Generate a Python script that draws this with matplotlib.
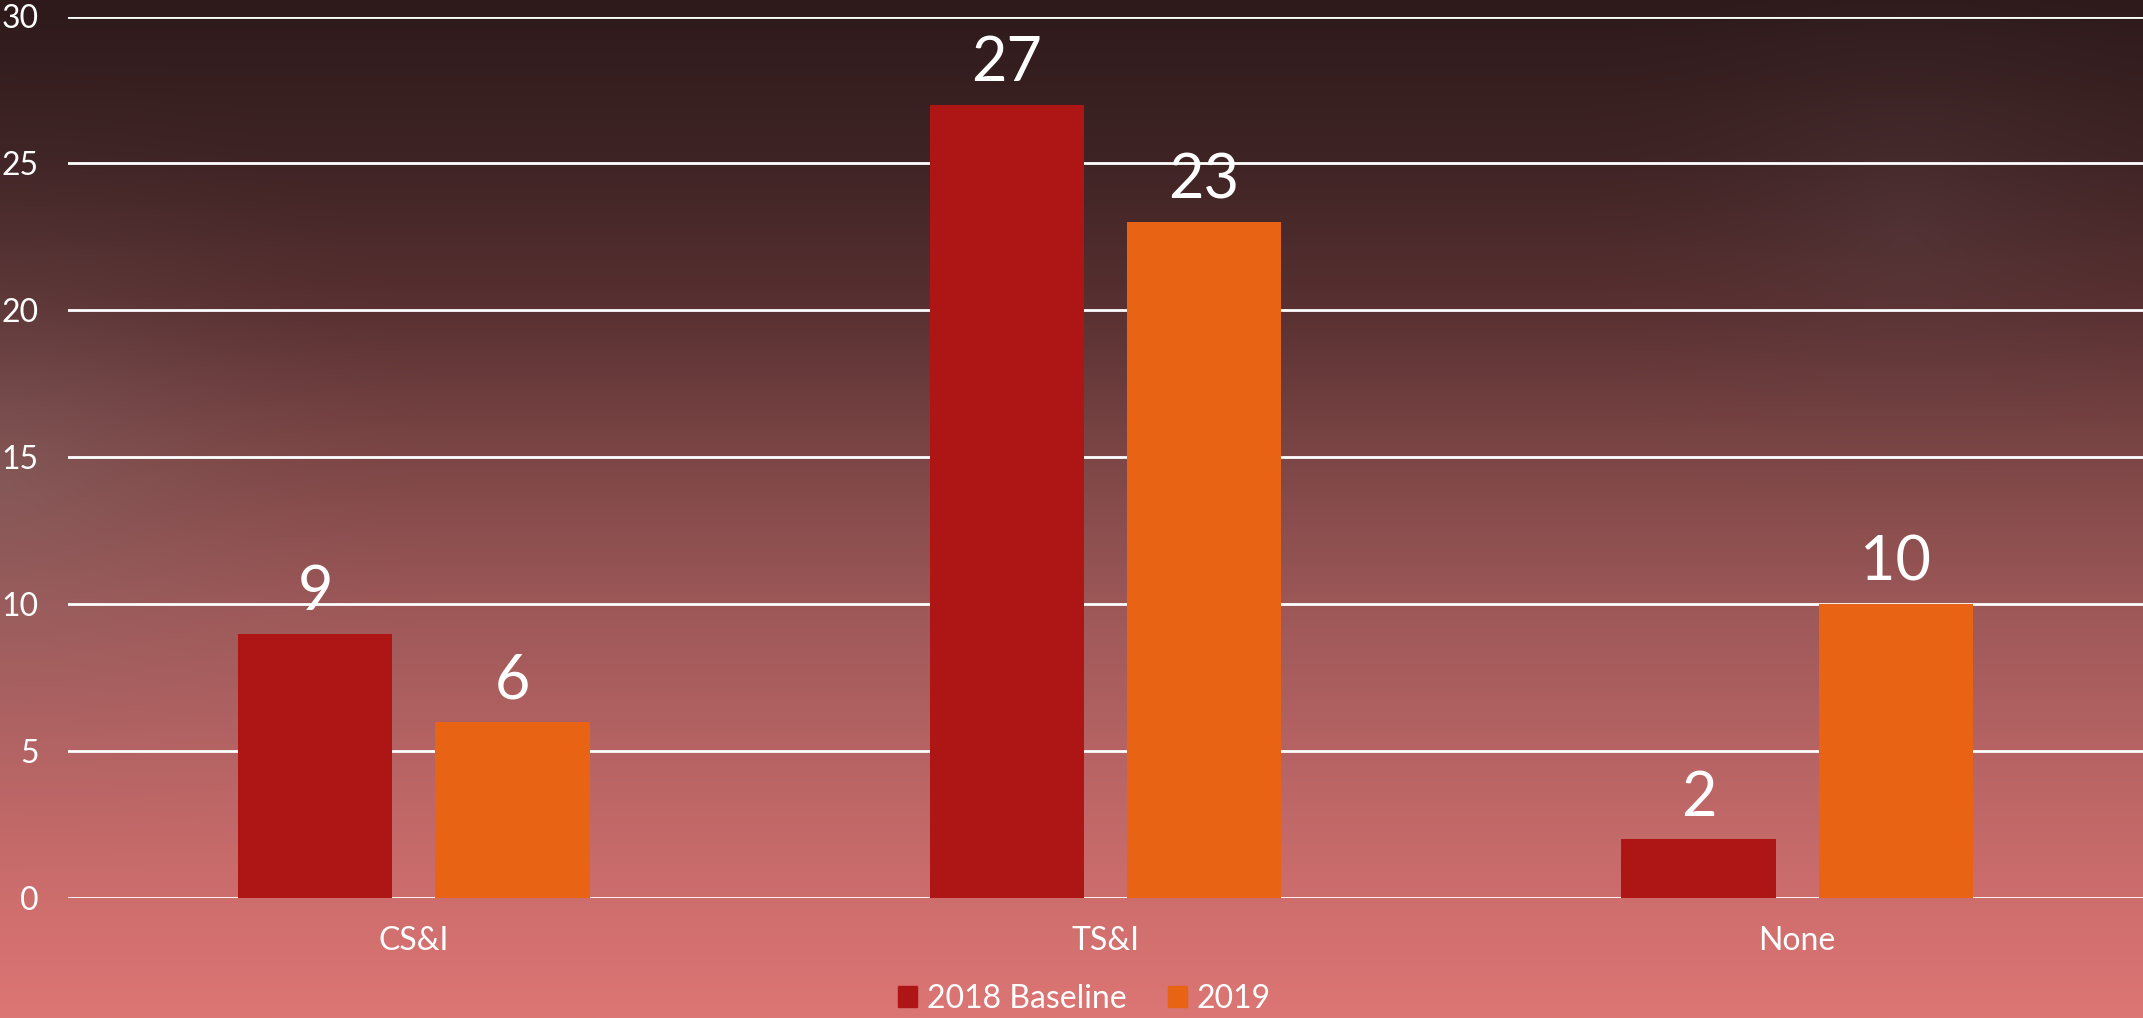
import numpy as np
import matplotlib
matplotlib.use("Agg")
import matplotlib.pyplot as plt
from matplotlib.patches import Patch

categories = ["CS&I", "TS&I", "None"]
series_names = ["2018 Baseline", "2019"]
baseline_2018 = [9, 27, 2]
values_2019 = [6, 23, 10]
y_ticks = [0, 5, 10, 15, 20, 25, 30]
colors = ["#AE1515", "#E86313"]

plt.rcParams['font.family'] = ['Lato', 'DejaVu Sans']

W, H = 2143, 1018
fig = plt.figure(figsize=(W / 100, H / 100), dpi=100)

# background gradient
bg = fig.add_axes([0, 0, 1, 1], zorder=-10)
bg.set_axis_off()
yy = np.linspace(0, 1, 400)[:, None]
xx = np.linspace(0, 1, 800)[None, :]
stops = np.array([0.0, 0.15, 0.3, 0.45, 0.6, 0.75, 0.9, 1.0])
cols = np.array([
    (46, 26, 27), (62, 35, 36), (88, 48, 49), (125, 70, 70),
    (158, 88, 88), (184, 100, 100), (208, 111, 110), (220, 118, 116)
]) / 255.0
img = np.zeros((400, 800, 3))
for c in range(3):
    img[:, :, c] = np.interp(yy[:, 0], stops, cols[:, c])[:, None] * np.ones_like(xx)
aspect = W / H
def glow(cx, cy, r, col, strength):
    d = np.sqrt(((xx - cx) * aspect) ** 2 + (yy - cy) ** 2)
    w = np.clip(1 - d / r, 0, 1) ** 2 * strength
    for c in range(3):
        img[:, :, c] = img[:, :, c] * (1 - w) + col[c] * w
glow(0.0, 0.47, 0.45, (0.55, 0.45, 0.45), 0.35)
glow(0.89, 0.22, 0.35, (0.40, 0.30, 0.32), 0.25)
bg.imshow(img, aspect='auto', extent=[0, 1, 0, 1], origin='upper')
bg.set_xlim(0, 1); bg.set_ylim(0, 1)

left = 68 / W
bottom = (H - 898) / H
top = (H - 16.5) / H
ax = fig.add_axes([left, bottom, 1 - left, top - bottom])
ax.patch.set_alpha(0)

x = np.arange(len(categories))
width = 0.223
offset = 0.1425
b1 = ax.bar(x - offset, baseline_2018, width, color=colors[0], zorder=3)
b2 = ax.bar(x + offset, values_2019, width, color=colors[1], zorder=3)

for bars in (b1, b2):
    for rect in bars:
        h = rect.get_height()
        ax.annotate(f"{h:g}", (rect.get_x() + rect.get_width() / 2, h),
                    xytext=(0, 9), textcoords='offset points',
                    ha='center', va='bottom', color='white',
                    fontsize=44, fontweight='normal', zorder=5)

ax.set_xlim(-0.5, 2.5)
ax.set_ylim(0, 30)
ax.set_yticks(y_ticks)
ax.set_yticklabels([str(t) for t in y_ticks])
ax.set_xticks(x)
ax.set_xticklabels(categories)
ax.tick_params(axis='both', length=0, colors='white', labelsize=23)
ax.tick_params(axis='y', pad=21)
ax.tick_params(axis='x', pad=20)
ax.grid(axis='y', color='white', linewidth=2, zorder=1)
ax.set_axisbelow(True)
for s in ax.spines.values():
    s.set_visible(False)

handles = [Patch(color=colors[0]), Patch(color=colors[1])]
leg = fig.legend(handles, series_names, loc='center', bbox_to_anchor=(0.506, 0.019),
                 ncol=2, frameon=False, handlelength=0.6, handleheight=0.6,
                 handletextpad=0.3, columnspacing=1.3,
                 prop={'size': 23})
for t in leg.get_texts():
    t.set_color('white')

fig.savefig("out.png", dpi=100)
